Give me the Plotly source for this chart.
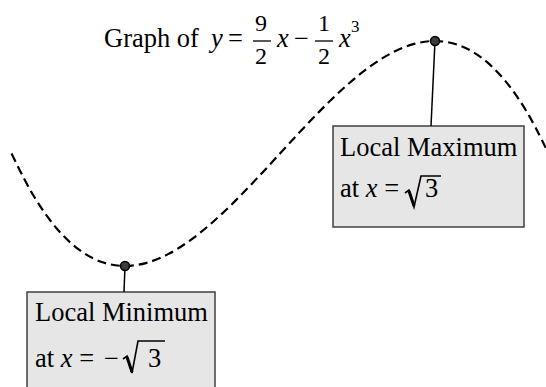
import plotly.graph_objects as go

# Curve samples of y = 9/2 x - 1/2 x^3 (read/tabulated)
curve_x = [-3.0, -2.75, -2.5, -2.25, -2.0, -1.75, -1.5, -1.25, -1.0, -0.75, -0.5, -0.25,
           0.0, 0.25, 0.5, 0.75, 1.0, 1.25, 1.5, 1.75, 2.0, 2.25, 2.5, 2.75, 3.0]
curve_y = [0.0, -1.977, -3.4375, -4.430, -5.0, -5.195, -5.0625, -4.648, -4.0, -3.164, -2.1875, -1.117,
           0.0, 1.117, 2.1875, 3.164, 4.0, 4.648, 5.0625, 5.195, 5.0, 4.430, 3.4375, 1.977, 0.0]
extrema_x = [-1.732, 1.732]
extrema_y = [-5.196, 5.196]

W, H = 546, 387
X0, SX = 280.0, 89.5
Y0, SY = 153.5, 21.65

def px(x):
    return x / W

def py(y):
    return 1 - y / H

FONT = "Liberation Serif"
FS = 26.5
FR = 24

fig = go.Figure()
fig.add_trace(go.Scatter(x=curve_x, y=curve_y, mode="lines", line_shape="spline",
                         line=dict(color="black", width=2.2, dash="9px,5px"),
                         hoverinfo="skip", showlegend=False))
fig.add_trace(go.Scatter(x=extrema_x, y=extrema_y, mode="markers",
                         marker=dict(size=9, color="#3c3c3c", line=dict(color="black", width=1.5)),
                         showlegend=False, cliponaxis=False))

shapes = []
# boxes
shapes.append(dict(type="rect", xref="paper", yref="paper", x0=px(333), x1=px(524), y0=py(227), y1=py(126),
                   fillcolor="#e6e6e6", line=dict(color="#404040", width=1.5), layer="below"))
shapes.append(dict(type="rect", xref="paper", yref="paper", x0=px(27), x1=px(215), y0=py(395), y1=py(292),
                   fillcolor="#e6e6e6", line=dict(color="#404040", width=1.5), layer="below"))
# connectors
shapes.append(dict(type="line", xref="paper", yref="paper", x0=px(435), y0=py(41), x1=px(431), y1=py(126),
                   line=dict(color="black", width=1.5), layer="below"))
shapes.append(dict(type="line", xref="paper", yref="paper", x0=px(125), y0=py(266), x1=px(124), y1=py(292),
                   line=dict(color="black", width=1.5), layer="below"))
# fraction bars
for a, b in [(253, 271), (315, 333)]:
    shapes.append(dict(type="line", xref="paper", yref="paper", x0=px(a), x1=px(b), y0=py(41), y1=py(41),
                       line=dict(color="black", width=1.3)))

def path(pts, w):
    d = "M " + " L ".join(f"{px(x):.5f},{py(y):.5f}" for x, y in pts)
    return dict(type="path", xref="paper", yref="paper", path=d, line=dict(color="black", width=w))

# radical signs
shapes.append(path([(405, 193), (409, 190), (414, 207), (421, 176), (441, 176)], 1.6))
shapes.append(path([(409, 191), (414, 206)], 3))
shapes.append(path([(123, 359), (127, 356), (132, 373), (138, 341), (165, 341)], 1.6))
shapes.append(path([(127, 357), (132, 372)], 3))

ann = []
def t(text, x, y, size=FS, xanchor="center", yanchor="middle"):
    ann.append(dict(text=text, x=px(x), y=py(y), xref="paper", yref="paper", showarrow=False,
                    xanchor=xanchor, yanchor=yanchor, borderpad=0,
                    font=dict(family=FONT, size=size, color="black")))

# title
t("Graph of", 103, 38.3, xanchor="left")
t("<i>y</i>", 215, 38.3)
t("=", 235, 38.3)
t("9", 261, 37.5, size=FR, yanchor="bottom")
t("2", 261, 42, size=FR, yanchor="top")
t("<i>x</i>", 282, 38.3)
t("\u2212", 301, 38.3)
t("1", 324, 37.5, size=FR, yanchor="bottom")
t("2", 324, 42, size=FR, yanchor="top")
t("<i>x</i>", 344, 38.3)
t("3", 355, 26, size=17)

# max box
t("Local Maximum", 339, 146.6, xanchor="left")
t("at <i>x</i> =", 339, 188, xanchor="left")
t("3", 431.5, 188)

# min box
t("Local Minimum", 34, 311.6, xanchor="left")
t("at <i>x</i> =", 34, 358, xanchor="left")
t("\u2212", 111, 358)
t("3", 154.5, 358)

fig.update_layout(
    width=W, height=H, margin=dict(l=0, r=0, t=0, b=0),
    paper_bgcolor="white", plot_bgcolor="white",
    xaxis=dict(range=[(0 - X0) / SX, (W - X0) / SX], visible=False, fixedrange=True),
    yaxis=dict(range=[(Y0 - H) / SY, Y0 / SY], visible=False, fixedrange=True),
    shapes=shapes, annotations=ann, showlegend=False,
)
fig.write_html("out.html", config={"displayModeBar": False},
               post_script="document.body.style.margin='0';document.body.style.overflow='hidden';")
